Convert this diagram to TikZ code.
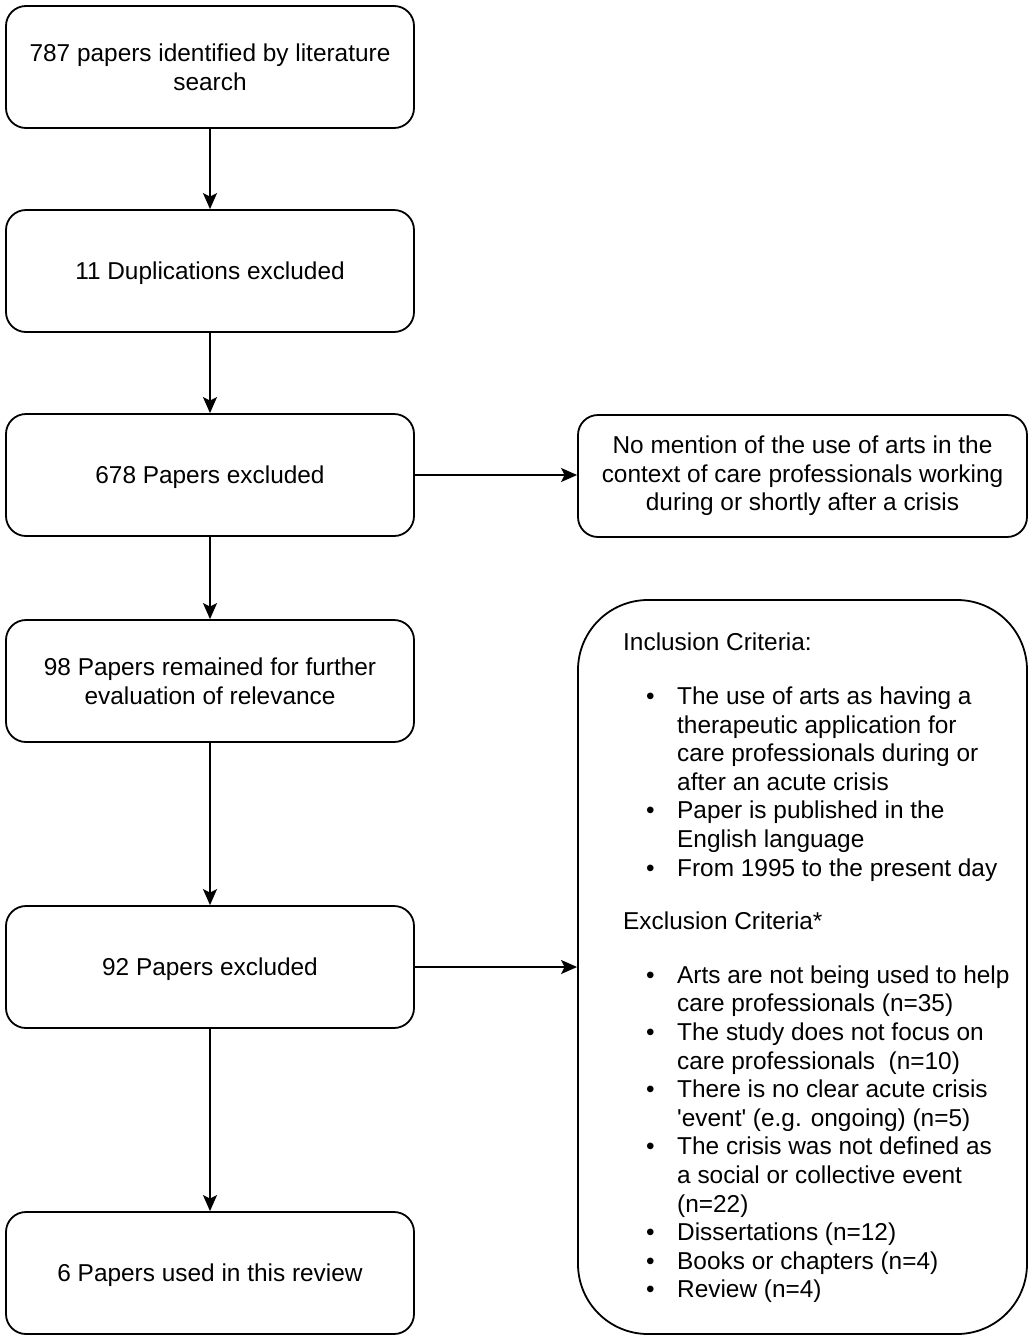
\documentclass[tikz,border=0pt]{standalone}
\usepackage{fontspec}
\setmainfont{Liberation Sans}[Ligatures=TeXOff]
\usetikzlibrary{arrows.meta}
\newcommand{\bl}[1]{\makebox[54pt][l]{\hspace{23pt}\textbullet}#1}
\newcommand{\cn}[1]{\hspace*{54pt}#1}
\newcommand{\lowered}[1]{\raisebox{-2pt}[\height][\depth]{#1}}
\begin{document}
\begin{tikzpicture}[x=1pt,y=-1pt,
  box/.style={draw,line width=1.8pt,rounded corners=20pt,minimum width=408pt,minimum height=122pt,align=center,inner sep=0pt},
  conn/.style={line width=1.8pt,-{Stealth[length=16pt,width=14pt,inset=3.5pt]}},
  every node/.style={font=\fontsize{24.4pt}{28.6pt}\selectfont}]
\useasboundingbox (0,0) rectangle (1032,1339);
\node[box] (b1) at (210,67) {787 papers identified by literature\\search};
\node[box] (b2) at (210,271) {\lowered{11 Duplications excluded}};
\node[box] (b3) at (210,475) {\lowered{678 Papers excluded}};
\node[box] (b4) at (210,681) {98 Papers remained for further\\evaluation of relevance};
\node[box] (b5) at (210,967) {\lowered{92 Papers excluded}};
\node[box] (b6) at (210,1273) {\lowered{6 Papers used in this review}};
\node[box,minimum width=449pt] (r1) at (802.5,476) {No mention of the use of arts in the\\context of care professionals working\\during or shortly after a crisis};
\node[box,minimum width=449pt,minimum height=734pt,rounded corners=70pt] (big) at (802.5,967) {};
\node[anchor=north west,inner sep=0pt,align=left] (crit) at (623,633) {%
Inclusion Criteria:\\[25pt]
\bl{The use of arts as having a}\\
\cn{therapeutic application for}\\
\cn{care professionals during or}\\
\cn{after an acute crisis}\\
\bl{Paper is published in the}\\
\cn{English language}\\
\bl{From 1995 to the present day}\\[25pt]
Exclusion Criteria*\\[25pt]
\bl{Arts are not being used to help}\\
\cn{care professionals (n=35)}\\
\bl{The study does not focus on}\\
\cn{care professionals\ \ (n=10)}\\
\bl{There is no clear acute crisis}\\
\cn{'event' (e.g. ongoing) (n=5)}\\
\bl{The crisis was not defined as}\\
\cn{a social or collective event}\\
\cn{(n=22)}\\
\bl{Dissertations (n=12)}\\
\bl{Books or chapters (n=4)}\\
\bl{Review (n=4)}};
\draw[conn] (b1) -- (b2);
\draw[conn] (b2) -- (b3);
\draw[conn] (b3) -- (b4);
\draw[conn] (b4) -- (b5);
\draw[conn] (b5) -- (b6);
\draw[conn] (b3) -- (r1.west |- b3);
\draw[conn] (b5) -- (big);
\end{tikzpicture}
\end{document}
